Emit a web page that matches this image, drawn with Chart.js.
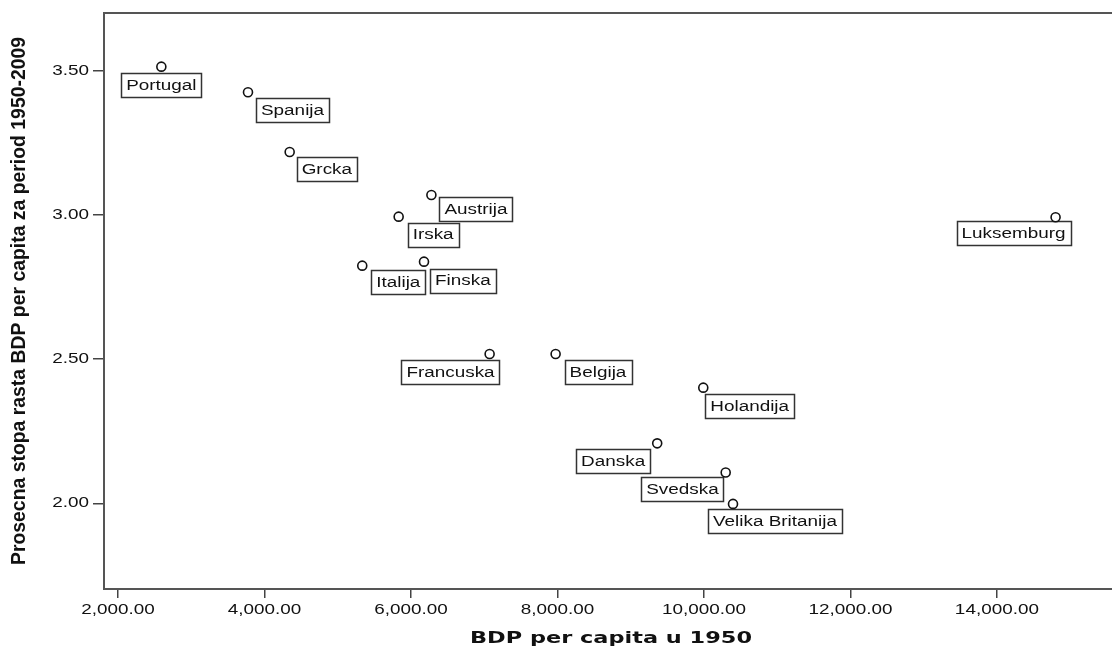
<!DOCTYPE html>
<html><head><meta charset="utf-8">
<script src="https://cdn.jsdelivr.net/npm/chart.js@4"></script>
<style>html,body{margin:0;padding:0;background:#fff;overflow:hidden;width:1112px;height:649px}#wrap{width:1112px;height:649px;position:relative;overflow:hidden}canvas{display:block}</style>
</head><body><div id="wrap"><canvas id="c" width="1118" height="649"></canvas></div>
<script>
// ---- data ----
const countries = ['Portugal','Spanija','Grcka','Austrija','Irska','Italija','Finska','Francuska','Belgija','Holandija','Luksemburg','Danska','Svedska','Velika Britanija'];
const gdp1950 = [2592, 3775, 4344, 6279, 5832, 5335, 6178, 7074, 7975, 9991, 14801, 9362, 10297, 10397];
const growth = [3.514, 3.425, 3.218, 3.069, 2.994, 2.824, 2.838, 2.518, 2.518, 2.401, 2.992, 2.208, 2.107, 1.998];
const xTickValues = [2000, 4000, 6000, 8000, 10000, 12000, 14000];
const yTickValues = [2.0, 2.5, 3.0, 3.5];
const xTitle = 'BDP per capita u 1950';
const yTitle = 'Prosecna stopa rasta BDP per capita za period 1950-2009';

// ---- label layout (box placement relative to point) ----
const labelPlacement = {
  'Portugal': ['center', 0, 6], 'Spanija': ['left', 8, 6], 'Grcka': ['left', 7, 5],
  'Austrija': ['left', 8, 2], 'Irska': ['left', 9, 6], 'Italija': ['left', 9, 4],
  'Finska': ['left', 6, 7], 'Francuska': ['right', 10, 6], 'Belgija': ['left', 9, 6],
  'Holandija': ['left', 2, 6], 'Luksemburg': ['right', 15, 4], 'Danska': ['right', -7, 6],
  'Svedska': ['right', -2, 5], 'Velika Britanija': ['left', -25, 5]
};

const SX = 1.35;
const canvas = document.getElementById('c');
const ctx = canvas.getContext('2d');
const origFill = CanvasRenderingContext2D.prototype.fillText;
ctx.__sx = SX;
ctx.fillText = function(text, x, y, maxWidth) {
  const t = this.getTransform();
  if (Math.abs(t.b) > 1e-6 || Math.abs(t.c) > 1e-6 || this.__sx === 1) {
    return maxWidth === undefined ? origFill.call(this, text, x, y) : origFill.call(this, text, x, y, maxWidth);
  }
  this.save();
  this.translate(x, y);
  this.scale(this.__sx, 1);
  origFill.call(this, text, 0, 0);
  this.restore();
};

const FONT = '"Liberation Sans", Arial, sans-serif';

const framePlugin = {
  id: 'frame',
  afterDraw(chart) {
    const {ctx, chartArea: a} = chart;
    ctx.save();
    ctx.strokeStyle = '#555';
    ctx.lineWidth = 2;
    ctx.beginPath();
    ctx.moveTo(a.left - 1, a.top);
    ctx.lineTo(a.right + 10, a.top);
    ctx.stroke();
    ctx.restore();
  }
};

const labelPlugin = {
  id: 'ptLabels',
  beforeDatasetsDraw(chart) {
    const ctx = chart.ctx;
    const meta = chart.getDatasetMeta(0);
    ctx.save();
    ctx.font = '14px ' + FONT;
    ctx.textBaseline = 'middle';
    ctx.textAlign = 'left';
    meta.data.forEach((pt, i) => {
      const name = countries[i];
      const [anchor, dx, dy] = labelPlacement[name];
      const w = ctx.measureText(name).width * SX + 10;
      const h = 24;
      let left;
      if (anchor === 'center') left = pt.x - w / 2 + dx;
      else if (anchor === 'left') left = pt.x + dx;
      else left = pt.x + dx - w;
      const top = pt.y + dy;
      ctx.fillStyle = '#fff';
      ctx.fillRect(left, top, w, h);
      ctx.strokeStyle = '#333';
      ctx.lineWidth = 1.5;
      ctx.strokeRect(Math.round(left) + 0.5, Math.round(top) + 0.5, Math.round(w), h);
      ctx.fillStyle = '#111';
      ctx.fillText(name, left + 5, top + h / 2 + 1);
    });
    ctx.restore();
  }
};

const xTitlePlugin = {
  id: 'xTitle',
  afterDraw(chart) {
    const ctx = chart.ctx;
    ctx.save();
    ctx.font = 'bold 15px "DejaVu Sans", sans-serif';
    const w = ctx.measureText(xTitle).width;
    ctx.__sx = 282 / w;
    ctx.textAlign = 'center';
    ctx.textBaseline = 'alphabetic';
    ctx.fillStyle = '#111';
    ctx.fillText(xTitle, 611, 643);
    ctx.__sx = SX;
    ctx.restore();
  }
};

new Chart(ctx, {
  type: 'scatter',
  data: {
    datasets: [{
      data: countries.map((n, i) => ({x: gdp1950[i], y: growth[i]})),
      pointRadius: 4.5, pointHoverRadius: 4.5,
      pointBackgroundColor: '#fff', pointBorderColor: '#111', pointBorderWidth: 1.6
    }]
  },
  options: {
    responsive: false, animation: false, devicePixelRatio: 1,
    layout: {padding: {left: 8, top: 13, right: 0, bottom: 0}},
    plugins: {legend: {display: false}, tooltip: {enabled: false}},
    scales: {
      x: {
        type: 'linear', min: 1809, max: 15570,
        afterBuildTicks: s => { s.ticks = xTickValues.map(v => ({value: v})); },
        afterFit: s => { s.height = 60; },
        grid: {drawOnChartArea: false, drawTicks: true, tickLength: 9, color: '#444', lineWidth: 1.5},
        border: {display: true, color: '#555', width: 2},
        ticks: {color: '#111', font: {family: FONT, size: 14}, padding: 4, maxRotation: 0, autoSkip: false,
          callback: v => Number(v).toLocaleString('en-US', {minimumFractionDigits: 2, maximumFractionDigits: 2})}
      },
      y: {
        type: 'linear', min: 1.703, max: 3.70,
        afterBuildTicks: s => { s.ticks = yTickValues.map(v => ({value: v})); },
        afterFit: s => { s.width = 96; },
        grid: {drawOnChartArea: false, drawTicks: true, tickLength: 11, color: '#444', lineWidth: 1.5},
        border: {display: true, color: '#555', width: 2},
        ticks: {color: '#111', font: {family: FONT, size: 14}, padding: 4,
          callback: v => Number(v).toFixed(2)},
        title: {display: true, text: yTitle, color: '#111',
          font: {family: FONT, size: 19.4, weight: 'bold'}, padding: {top: 0, bottom: 0}}
      }
    }
  },
  plugins: [labelPlugin, framePlugin, xTitlePlugin]
});
</script></body></html>
